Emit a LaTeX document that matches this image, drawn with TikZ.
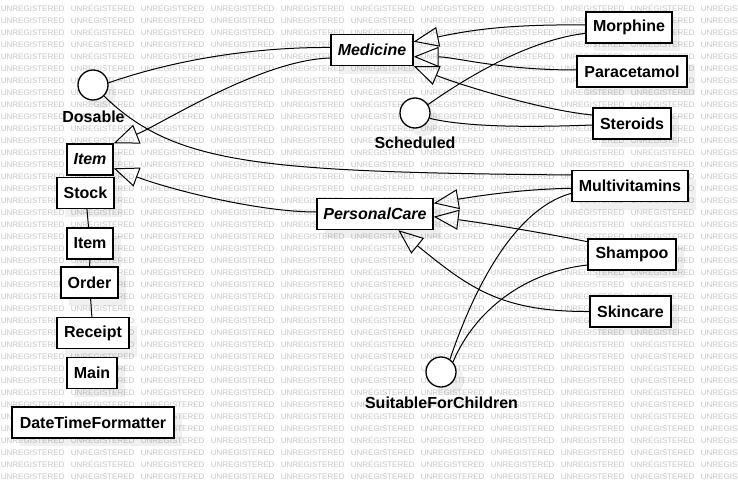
\documentclass[tikz,border=0pt]{standalone}
\usepackage{fontspec}
\setmainfont{Liberation Sans}
\usetikzlibrary{arrows.meta,calc,shadows}
\definecolor{wm}{RGB}{198,198,198}
\tikzset{
  shad/.style={drop shadow={shadow xshift=8pt,shadow yshift=-8pt,fill=black,opacity=.06}},
  box/.style={draw, line width=1.3pt, fill=white, inner sep=0pt, minimum height=31pt,
    font=\fontsize{16}{19}\selectfont\bfseries, shad},
  iface/.style={circle, draw, line width=1.3pt, fill=white, minimum size=30pt, inner sep=0pt, shad},
  lbl/.style={font=\fontsize{16}{19}\selectfont\bfseries, inner sep=0pt},
  conn/.style={line width=1pt},
  gen/.style={conn, -{Triangle[open,length=25pt,width=20pt]}},
  wmark/.style={font=\fontsize{8}{9}\selectfont, text=wm, inner sep=0pt, anchor=west}
}
\begin{document}
\begin{tikzpicture}[x=1pt,y=-1pt]
\fill[white] (0,0) rectangle (738,487);
\useasboundingbox (0,0) rectangle (738,487);
\begin{scope}
\clip (0,0) rectangle (738,487);
\foreach \i in {0,...,10}{
  \foreach \j in {0,...,39}{
    \node[wmark] (w-\i-\j) at ({0.7+70*\i},{9+12*\j}) {UNREGISTERED};
  }
}
\end{scope}

% left column
\node[box, minimum width=46pt] (item1) at (90,159.5) {\textit{Item}};
\node[box, minimum width=57pt] (stock) at (85.5,193) {Stock};
\node[box, minimum width=46pt] (item2) at (90,243.5) {Item};
\node[box, minimum width=57pt] (order) at (89.5,282.5) {Order};
\node[box, minimum width=72pt] (receipt) at (93,333) {Receipt};
\node[box, minimum width=50pt] (main) at (92,373) {Main};
\node[box, minimum width=162pt] (dtf) at (93,422.5) {DateTimeFormatter};

% abstract classes
\node[box, minimum width=82pt] (med) at (372,50) {\textit{Medicine}};
\node[box, minimum width=116pt] (pc) at (375,214) {\textit{PersonalCare}};

% concrete classes
\node[box, minimum width=86pt] (mor) at (629,27.5) {Morphine};
\node[box, minimum width=110pt] (par) at (632,71.5) {Paracetamol};
\node[box, minimum width=78pt] (ste) at (632,123.5) {Steroids};
\node[box, minimum width=116pt] (multi) at (630,186) {Multivitamins};
\node[box, minimum width=88pt] (sham) at (632,254.5) {Shampoo};
\node[box, minimum width=81pt] (skin) at (630.5,311.5) {Skincare};

% interfaces
\node[iface] (dos) at (93,85) {};
\node[lbl] (dosl) at (93.5,117) {Dosable};
\node[iface] (sch) at (415,113) {};
\node[lbl] (schl) at (415,143) {Scheduled};
\node[iface] (sfc) at (441,372) {};
\node[lbl] (sfcl) at (441.5,403) {SuitableForChildren};

% associations in left column
\draw[conn] (stock) -- (item2);
\draw[conn] (item2) -- (order);
\draw[conn] (order) -- (receipt);

% interface links
\draw[conn] (dos.8) .. controls (180,58) and (260,47) .. ($(med.west)+(0,-2.5)$);
\draw[conn] (dos.-45) .. controls (175,165) and (260,172) .. ($(multi.west)+(0,-11)$);
\draw[conn] (sch.33) .. controls (470,75) and (530,40) .. ($(mor.west)+(0,5.8)$);
\draw[conn] (sch.-20) .. controls (470,128) and (540,127) .. ($(ste.west)+(0,1.5)$);
\draw[conn] (sfc.55) .. controls (470,300) and (510,210) .. ($(multi.west)+(0,7.3)$);
\draw[conn] (sfc.40) .. controls (475,310) and (525,272) .. ($(sham.west)+(0,10.5)$);

% generalizations
\draw[gen] ($(med.west)+(0,8)$) .. controls (260,60) and (160,125) .. (item1.north east);
\draw[gen] ($(pc.west)+(0,-2)$) .. controls (260,212) and (173,190.5) .. ($(item1.east)+(0,8.8)$);
\draw[gen] ($(mor.west)+(0,-2.5)$) .. controls (500,24) and (464,31.7) .. ($(med.east)+(0,-8.3)$);
\draw[gen] ($(par.west)+(0,-1.5)$) .. controls (500,70) and (455,57) .. ($(med.east)+(0,6.7)$);
\draw[gen] ($(ste.west)+(0,-8.5)$) .. controls (540,110) and (455.5,83.3) .. ($(med.east)+(0,16)$);
\draw[gen] ($(multi.west)+(0,2.3)$) .. controls (520,189) and (471.5,197) .. ($(pc.east)+(0,-10.7)$);
\draw[gen] ($(sham.west)+(0,-12.8)$) .. controls (540,232) and (473,221.5) .. ($(pc.east)+(0,2.7)$);
\draw[gen] (skin.west) .. controls (500,312) and (468.3,287) .. ($(pc.south)+(23.3,0)$);
\end{tikzpicture}
\end{document}
